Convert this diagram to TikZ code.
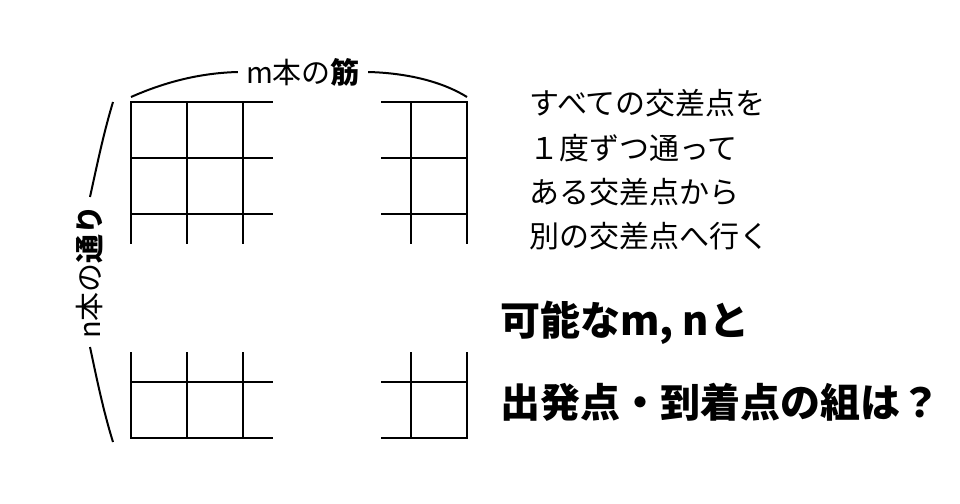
\documentclass[tikz,border=0pt]{standalone}
\usepackage{fontspec}
\setmainfont{Noto Sans CJK JP}
\usetikzlibrary{positioning}

\tikzset{
  gridline/.style={line width=2pt, line cap=rect},
  bracearc/.style={line width=2pt},
  memo/.style={font=\fontsize{30}{30}\selectfont, anchor=west, inner sep=0pt},
  ask/.style={font=\fontsize{40}{40}\selectfont\bfseries, anchor=west, inner sep=0pt},
  sidelabel/.style={font=\fontsize{29}{29}\selectfont, inner xsep=8pt, inner ysep=0pt}
}

\begin{document}
\begin{tikzpicture}[x=1pt, y=-1pt]
			\useasboundingbox (0,0) rectangle (960,503);
			
			\foreach \y in {102,158,214} {
				\draw[gridline] (131,\y) -- (272,\y);
				\draw[gridline] (382,\y) -- (467,\y);
			}
			\foreach \x in {131,187,243,411,467}
				\draw[gridline] (\x,102) -- (\x,243);
			
			\foreach \y in {382,438} {
				\draw[gridline] (131,\y) -- (272,\y);
				\draw[gridline] (382,\y) -- (467,\y);
			}
			\foreach \x in {131,187,243,411,467}
				\draw[gridline] (\x,353) -- (\x,438);
			
			\node[sidelabel] (mlabel) at (303,72) {m本の\textbf{筋}};
			\coordinate (tl) at (131,97);
			\coordinate (tr) at (467,97);
			\draw[bracearc] (tl) .. controls (165,82) and (200,73) .. (mlabel.west);
			\draw[bracearc] (mlabel.east) .. controls (408,73) and (443,82) .. (tr);
			
			\node[sidelabel, rotate=90] (nlabel) at (90,272) {n本の\textbf{通り}};
			\coordinate (lt) at (113,102);
			\coordinate (lb) at (113,442);
			\draw[bracearc] (lt) .. controls (103,135) and (96,170) .. (nlabel.east);
			\draw[bracearc] (nlabel.west) .. controls (96,375) and (103,410) .. (lb);
			
			\node[memo] (line1) at (529,103) {すべての交差点を};
			\node[memo] (line2) at (529,148) {１度ずつ通って};
			\node[memo] (line3) at (529,192) {ある交差点から};
			\node[memo] (line4) at (529,236) {別の交差点へ行く};
			
			\node[ask] (q1) at (500,323) {可能なm, nと};
			\node[ask] (q2) at (500,402) {出発点・到着点の組は？};
\end{tikzpicture}
\end{document}
